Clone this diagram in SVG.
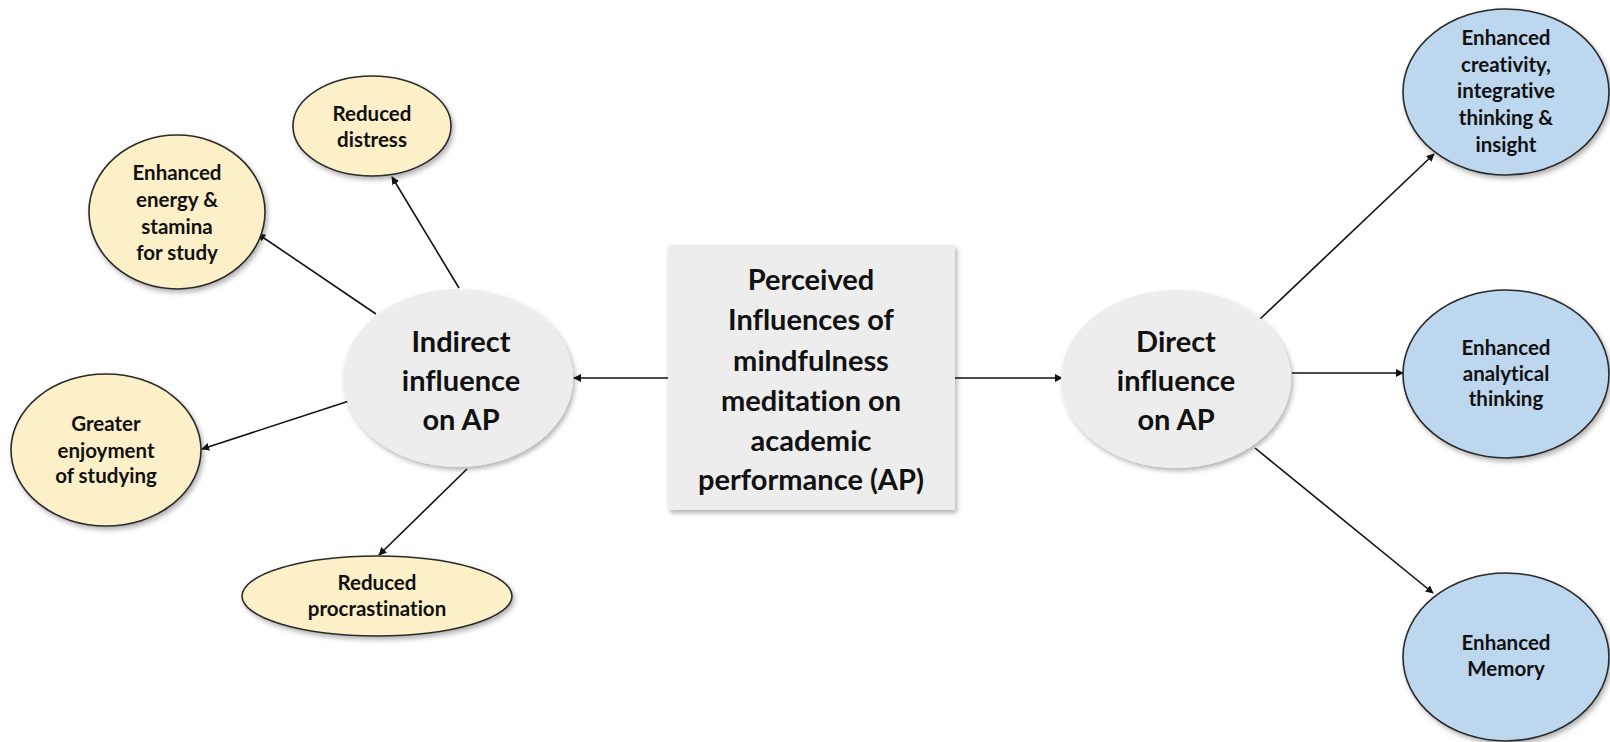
<svg xmlns="http://www.w3.org/2000/svg" width="1610" height="742" viewBox="0 0 1610 742">
<defs>
<style>
text{font-family:Lato,"Open Sans","Liberation Sans",sans-serif;font-weight:bold;fill:#111;text-anchor:middle;dominant-baseline:central;font-variant-ligatures:none}
.s{font-size:20.5px}
.b{font-size:29px}
.y{fill:#FDF0C8;stroke:#2a2a2a;stroke-width:1.6}
.bl{fill:#BDD7EE;stroke:#2a2a2a;stroke-width:1.6}
.g{fill:#EDEDED}
.c{stroke:#111;stroke-width:1.6;fill:none;marker-end:url(#ah)}
</style>
<marker id="ah" viewBox="0 0 10 10" refX="9" refY="5" markerWidth="8" markerHeight="8" orient="auto" markerUnits="userSpaceOnUse"><path d="M0,0 L10,5 L0,10 z" fill="#111"/></marker>
<filter id="sh" x="-20%" y="-20%" width="140%" height="140%"><feDropShadow dx="2" dy="3" stdDeviation="2.5" flood-color="#000" flood-opacity="0.3"/></filter>
</defs>
<rect width="1610" height="742" fill="#fff"/>
<g id="connectors">
<line class="c" x1="668" y1="378" x2="574" y2="378"/>
<line class="c" x1="955" y1="378" x2="1062" y2="378"/>
<line class="c" x1="459" y1="288" x2="392" y2="177"/>
<line class="c" x1="376" y1="314" x2="258" y2="234"/>
<line class="c" x1="349" y1="401" x2="202" y2="449"/>
<line class="c" x1="467" y1="469" x2="379" y2="555"/>
<line class="c" x1="1259" y1="320" x2="1434" y2="154"/>
<line class="c" x1="1292" y1="373" x2="1403" y2="373"/>
<line class="c" x1="1255" y1="448" x2="1433" y2="593"/>
</g>
<g id="center">
<rect class="g" x="668" y="245" width="287" height="265" filter="url(#sh)"/>
<text class="b" x="811" y="278">Perceived</text>
<text class="b" x="811" y="318">Influences of</text>
<text class="b" x="811" y="359">mindfulness</text>
<text class="b" x="811" y="399">meditation on</text>
<text class="b" x="811" y="439">academic</text>
<text class="b" x="811" y="478">performance (AP)</text>
</g>
<g id="indirect">
<ellipse class="g" cx="458" cy="378" rx="115" ry="89" filter="url(#sh)"/>
<text class="b" x="461" y="340">Indirect</text>
<text class="b" x="461" y="379">influence</text>
<text class="b" x="461" y="418">on AP</text>
</g>
<g id="direct">
<ellipse class="g" cx="1176" cy="379" rx="115" ry="89" filter="url(#sh)"/>
<text class="b" x="1176" y="340">Direct</text>
<text class="b" x="1176" y="379">influence</text>
<text class="b" x="1176" y="418">on AP</text>
</g>
<g id="reduced-distress">
<ellipse class="y" cx="372" cy="126" rx="79" ry="50" filter="url(#sh)"/>
<text class="s" x="372" y="113">Reduced</text>
<text class="s" x="372" y="139">distress</text>
</g>
<g id="enhanced-energy">
<ellipse class="y" cx="177" cy="212" rx="88" ry="77" filter="url(#sh)"/>
<text class="s" x="177" y="172">Enhanced</text>
<text class="s" x="177" y="199">energy &amp;</text>
<text class="s" x="177" y="226">stamina</text>
<text class="s" x="177" y="252">for study</text>
</g>
<g id="greater-enjoyment">
<ellipse class="y" cx="106" cy="450" rx="95" ry="76" filter="url(#sh)"/>
<text class="s" x="106" y="423">Greater</text>
<text class="s" x="106" y="450">enjoyment</text>
<text class="s" x="106" y="475">of studying</text>
</g>
<g id="reduced-procrastination">
<ellipse class="y" cx="377" cy="596" rx="135" ry="40" filter="url(#sh)"/>
<text class="s" x="377" y="582">Reduced</text>
<text class="s" x="377" y="608">procrastination</text>
</g>
<g id="creativity">
<ellipse class="bl" cx="1506" cy="92" rx="103" ry="83" filter="url(#sh)"/>
<text class="s" x="1506" y="37">Enhanced</text>
<text class="s" x="1506" y="64">creativity,</text>
<text class="s" x="1506" y="90">integrative</text>
<text class="s" x="1506" y="117">thinking &amp;</text>
<text class="s" x="1506" y="144">insight</text>
</g>
<g id="analytical">
<ellipse class="bl" cx="1506" cy="374" rx="103" ry="84" filter="url(#sh)"/>
<text class="s" x="1506" y="347">Enhanced</text>
<text class="s" x="1506" y="373">analytical</text>
<text class="s" x="1506" y="398">thinking</text>
</g>
<g id="memory">
<ellipse class="bl" cx="1506" cy="657" rx="103" ry="84" filter="url(#sh)"/>
<text class="s" x="1506" y="642">Enhanced</text>
<text class="s" x="1506" y="668">Memory</text>
</g>
</svg>
